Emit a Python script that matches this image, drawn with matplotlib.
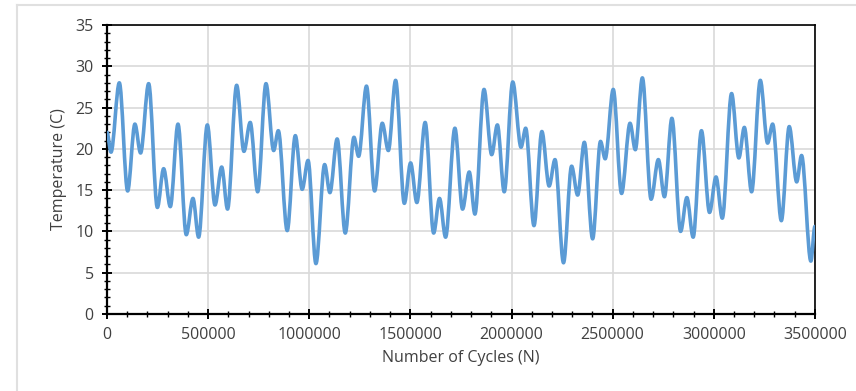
import matplotlib.pyplot as plt
from matplotlib.path import Path
from matplotlib.patches import PathPatch
from matplotlib.lines import Line2D
from matplotlib.ticker import MultipleLocator

plt.rcParams["font.family"] = ["Open Sans", "DejaVu Sans"]

# turning points of the temperature history (cycles, deg C)
cycles = [0, 19800, 61000, 102000, 138000, 166000, 206000, 249000, 280000, 313000,
          351000, 392000, 425000, 453000, 496000, 534000, 567000, 596000, 641000,
          677000, 708000, 745000, 786000, 824000, 847000, 891000, 931000, 965000,
          994000, 1033000, 1076000, 1102000, 1138000, 1178000, 1221000, 1244000,
          1283000, 1323000, 1361000, 1391000, 1427000, 1470000, 1501000, 1532000,
          1573000, 1615000, 1644000, 1674000, 1720000, 1758000, 1791000, 1819000,
          1864000, 1902000, 1930000, 1964000, 2006000, 2047000, 2070000, 2111000,
          2150000, 2186000, 2215000, 2257000, 2297000, 2327000, 2360000, 2401000,
          2440000, 2463000, 2503000, 2544000, 2586000, 2612000, 2647000, 2690000,
          2726000, 2756000, 2793000, 2836000, 2867000, 2898000, 2939000, 2979000,
          3011000, 3042000, 3088000, 3124000, 3151000, 3187000, 3230000, 3266000,
          3291000, 3334000, 3373000, 3410000, 3434000, 3480000, 3500000]
temps = [22.0, 19.6, 28.0, 14.9, 23.0, 19.5, 27.9, 12.9, 17.6, 13.0,
         23.0, 9.6, 14.0, 9.3, 22.9, 13.2, 17.8, 12.7, 27.7,
         19.7, 23.2, 14.8, 27.9, 19.8, 22.2, 10.1, 21.6, 15.1,
         18.6, 6.1, 18.1, 14.7, 21.2, 9.8, 21.4, 19.1,
         27.6, 14.9, 23.1, 19.8, 28.3, 13.4, 18.3, 13.5,
         23.2, 9.8, 14.0, 9.3, 22.5, 12.7, 17.2, 12.1,
         27.2, 19.3, 22.9, 14.8, 28.1, 20.2, 22.5, 10.7,
         22.1, 15.5, 18.7, 6.2, 17.9, 14.4, 20.8, 9.1,
         20.9, 18.8, 27.2, 14.6, 23.1, 19.9, 28.6, 13.9,
         18.7, 14.2, 23.7, 10.0, 14.1, 9.3, 22.2, 12.3,
         16.6, 11.6, 26.7, 18.9, 22.6, 14.8, 28.3, 20.7,
         23.0, 11.3, 22.7, 16.0, 19.2, 6.4, 10.6]

fig = plt.figure(figsize=(8.56, 3.91), dpi=100)
ax = fig.add_axes([0.125, 0.197, 0.827, 0.739])

# smooth curve through the turning points (flat tangents at each extremum)
verts = [(cycles[0], temps[0])]
codes = [Path.MOVETO]
for i in range(1, len(cycles)):
    x0, y0 = cycles[i - 1], temps[i - 1]
    x1, y1 = cycles[i], temps[i]
    dx = x1 - x0
    verts += [(x0 + dx / 3, y0), (x1 - dx / 3, y1), (x1, y1)]
    codes += [Path.CURVE4] * 3
ax.add_patch(PathPatch(Path(verts, codes), fill=False, edgecolor="#5B9BD5",
                       lw=2.6, capstyle="round", joinstyle="round", zorder=3))

ax.set_xlim(0, 3500000)
ax.set_ylim(0, 35)
ax.xaxis.set_major_locator(MultipleLocator(500000))
ax.xaxis.set_minor_locator(MultipleLocator(100000))
ax.yaxis.set_major_locator(MultipleLocator(5))
ax.yaxis.set_minor_locator(MultipleLocator(1))
ax.ticklabel_format(axis="x", style="plain", useOffset=False)
ax.grid(True, which="major", color="#d9d9d9", lw=1.2, zorder=0)
ax.set_axisbelow(True)

for s in ax.spines.values():
    s.set_color("black")
    s.set_linewidth(1.2)
ax.spines["left"].set_linewidth(1.6)
ax.spines["bottom"].set_linewidth(1.6)

ax.tick_params(which="major", direction="inout", length=7, width=1.4,
               labelsize=11.5, colors="black", labelcolor="#404040", pad=6)
ax.tick_params(which="minor", direction="inout", length=5, width=1.0, colors="black")
ax.tick_params(axis="x", which="both", top=False)
ax.tick_params(axis="y", which="both", right=False)

ax.set_xlabel("Number of Cycles (N)", fontsize=11.5, color="#404040", labelpad=5)
ax.set_ylabel("Temperature (C)", fontsize=11.5, color="#404040", labelpad=6)

# light chart-area frame
fig.add_artist(Line2D([17 / 856, 1], [1 - 5 / 391, 1 - 5 / 391],
                      transform=fig.transFigure, color="#e0e0e0", lw=1.5))
fig.add_artist(Line2D([17 / 856, 17 / 856], [0, 1 - 5 / 391],
                      transform=fig.transFigure, color="#e0e0e0", lw=1.5))

fig.savefig("out.png", dpi=100, facecolor="white")
